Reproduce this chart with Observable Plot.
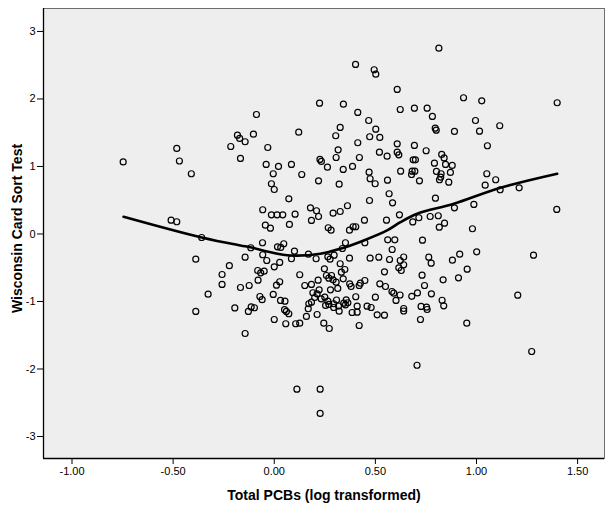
<!DOCTYPE html>
<html>
<head>
<meta charset="utf-8">
<script src="https://cdn.jsdelivr.net/npm/d3@7"></script>
<script src="https://cdn.jsdelivr.net/npm/@observablehq/plot@0.6"></script>
<style>
  html, body { margin: 0; padding: 0; background: #fff; }
</style>
</head>
<body>
<div id="chart"></div>
<script>
// Total PCBs (log transformed)
const pcbs = [
 -0.088,-0.482,-0.182,-0.171,-0.144,-0.103,-0.215,-0.032,0.121,-0.167,
 -0.747,-0.469,0.814,0.402,0.494,0.502,0.608,0.224,0.342,0.413,
 0.623,0.693,0.756,0.782,0.936,1.026,0.995,1.015,1.054,1.115,
 0.467,0.502,0.472,0.522,0.326,0.304,0.413,0.316,0.796,0.801,
 0.891,0.608,0.693,0.751,0.520,0.558,0.608,0.616,0.687,0.828,
 0.840,0.306,0.421,0.226,1.399,0.233,0.698,-0.040,0.021,0.085,
 -0.005,0.136,0.263,0.341,0.387,0.679,0.695,0.682,0.718,0.625,
 0.469,0.474,0.499,0.560,0.219,0.321,-0.014,0.000,0.072,0.568,
 0.585,0.471,-0.057,-0.014,0.014,0.042,0.103,0.179,0.209,0.219,
 0.184,0.291,0.326,0.362,0.446,0.555,0.619,0.685,-0.044,-0.019,
 0.075,0.267,0.281,0.372,0.390,0.403,-0.058,-0.116,0.016,0.032,
 0.047,0.100,0.169,0.207,0.265,0.276,0.296,0.337,0.352,0.448,
 0.561,0.596,0.583,0.517,0.474,0.570,0.372,0.326,0.640,0.623,
 0.616,0.628,0.640,0.545,-0.144,-0.222,-0.057,-0.037,0.000,0.027,
 0.085,-0.258,-0.258,-0.167,-0.124,-0.080,-0.082,-0.067,-0.050,0.011,
 0.027,-0.005,-0.071,-0.060,0.031,0.053,-0.195,-0.114,-0.098,0.051,
 0.126,0.151,0.184,0.217,0.191,0.200,0.212,0.222,0.232,0.184,
 0.171,0.248,0.258,0.270,0.283,0.291,0.306,0.314,0.278,0.341,
 0.349,0.332,0.373,0.380,0.420,0.426,0.448,0.403,0.364,0.270,
 0.254,0.308,0.294,0.318,0.352,0.410,0.459,0.500,0.522,0.550,
 0.582,0.591,0.602,0.640,0.680,0.708,0.726,-0.144,-0.128,0.000,
 0.060,0.072,0.057,0.106,0.126,0.159,0.168,0.212,0.245,0.272,
 0.250,0.265,0.294,0.321,0.344,0.356,0.385,0.410,0.420,0.479,
 0.509,0.545,0.622,0.640,0.723,0.706,0.112,0.227,0.227,0.792,
 0.847,0.880,0.802,0.825,0.823,0.817,0.871,0.863,1.051,1.095,
 1.043,1.117,1.211,0.797,0.987,0.891,1.397,0.715,0.771,0.811,
 0.842,0.816,0.980,0.733,0.764,0.776,0.881,0.917,1.001,1.282,
 0.954,0.911,0.835,0.731,0.743,0.777,0.830,0.838,0.753,1.204,
 0.756,0.952,1.273,-0.410,-0.510,-0.482,-0.359,-0.388,-0.327,-0.388
];
// Wisconsin Card Sort Test
const wcst = [
 1.770,1.267,1.464,1.415,1.366,1.479,1.296,1.281,1.508,1.119,
 1.067,1.081,2.753,2.511,2.433,2.367,2.141,1.938,1.923,1.800,
 1.844,1.864,1.864,1.741,2.018,1.973,1.681,1.523,1.307,1.603,
 1.681,1.553,1.440,1.430,1.578,1.455,1.351,1.247,1.567,1.538,
 1.519,1.336,1.311,1.233,1.212,1.153,1.212,1.173,1.099,1.178,
 1.126,1.133,1.133,1.104,1.944,1.074,1.099,1.030,1.000,1.030,
 0.892,0.881,0.990,0.956,1.000,0.881,0.930,0.930,0.788,0.930,
 0.916,0.818,0.744,0.797,0.788,0.738,0.744,0.659,0.521,0.596,
 0.462,0.496,0.359,0.284,0.284,0.284,0.293,0.388,0.344,0.259,
 0.200,0.308,0.333,0.418,0.204,0.204,0.284,0.178,0.130,0.086,
 0.141,0.092,0.056,0.056,0.107,0.107,-0.130,-0.204,-0.190,-0.200,
 -0.145,-0.255,-0.299,-0.367,-0.338,-0.373,-0.314,-0.215,-0.130,-0.130,
 -0.086,-0.086,-0.230,-0.344,-0.359,-0.378,-0.359,-0.441,-0.341,-0.393,
 -0.501,-0.541,-0.456,-0.560,-0.344,-0.470,-0.308,-0.393,-0.486,-0.422,
 -0.367,-0.600,-0.748,-0.793,-0.763,-0.684,-0.541,-0.575,-0.551,-0.759,
 -0.708,-0.896,-0.926,-0.973,-0.985,-0.996,-1.096,-1.081,-1.093,-1.121,
 -0.604,-0.763,-0.748,-0.684,-0.871,-0.941,-0.886,-0.827,-0.960,-1.010,
 -1.034,-0.516,-0.615,-0.655,-0.615,-0.679,-0.714,-0.807,-0.827,-0.664,
 -0.526,-0.566,-0.738,-0.778,-0.763,-0.729,-0.689,-0.930,-1.019,-1.044,
 -1.059,-0.978,-1.089,-1.067,-1.049,-1.070,-1.070,-0.936,-0.738,-0.778,
 -0.852,-0.877,-0.985,-1.104,-0.923,-0.874,-1.074,-1.474,-1.148,-1.267,
 -1.148,-1.182,-1.330,-1.330,-1.321,-1.222,-1.108,-1.193,-1.321,-1.400,
 -0.936,-0.996,-1.034,-1.144,-1.025,-0.975,-1.163,-1.159,-1.356,-1.089,
 -1.197,-1.203,-0.904,-1.141,-1.267,-1.945,-2.299,-2.299,-2.659,1.049,
 1.030,1.015,0.926,0.892,0.841,0.803,0.911,0.767,0.892,0.803,
 0.723,0.655,0.684,0.530,0.437,0.388,0.363,0.240,0.259,0.270,
 0.160,0.101,0.077,-0.092,-0.344,-0.433,-0.388,-0.299,-0.264,-0.314,
 -0.521,-0.649,-0.679,-0.610,-0.763,-0.886,-0.982,-1.064,-1.084,-0.907,
 -1.119,-1.321,-1.741,0.892,0.204,0.181,-0.052,-0.373,-0.892,-1.148
];
// Loess fit line
const loessX = [-0.745,-0.359,-0.167,-0.118,-0.019,0.080,0.228,0.327,0.443,0.558,0.624,0.707,0.888,1.119,1.399];
const loessY = [0.255,-0.052,-0.170,-0.196,-0.270,-0.319,-0.293,-0.219,-0.096,0.052,0.175,0.299,0.447,0.684,0.892];

const xTicks = [-1, -0.5, 0, 0.5, 1, 1.5];
const yTicks = [-3, -2, -1, 0, 1, 2, 3];
const xTitle = "Total PCBs (log transformed)";
const yTitle = "Wisconsin Card Sort Test";

const points = pcbs.map((x, i) => ({x, y: wcst[i]}));
const fit = loessX.map((x, i) => ({x, y: loessY[i]}));

const xDom = [-1.141, 1.633];
const yDom = [-3.326, 3.34];

const chart = Plot.plot({
  width: 613,
  height: 511,
  marginLeft: 43,
  marginRight: 9,
  marginTop: 8,
  marginBottom: 53,
  style: {fontFamily: "'Liberation Sans', Arial, sans-serif", fontSize: "11px", background: "#fff", color: "#000"},
  x: {domain: xDom},
  y: {domain: yDom},
  marks: [
    Plot.frame({fill: "#eeeeee", stroke: "#6e6e6e"}),
    Plot.dot(points, {x: "x", y: "y", r: 3, stroke: "#000", strokeWidth: 1.2, fill: "none"}),
    Plot.line(fit, {x: "x", y: "y", stroke: "#000", strokeWidth: 2.6, curve: "catmull-rom"}),
    Plot.ruleX([xDom[0]], {stroke: "#000", strokeWidth: 1.3}),
    Plot.ruleY([yDom[0]], {stroke: "#000", strokeWidth: 1.3}),
    Plot.axisX({ticks: xTicks, tickFormat: d => d.toFixed(2), tickSize: 6, tickPadding: 3, label: null, stroke: "#000"}),
    Plot.axisY({ticks: yTicks, tickFormat: d => String(d), tickSize: 6, tickPadding: 2, label: null, stroke: "#000"}),
    Plot.text([xTitle], {frameAnchor: "bottom", dy: 37, textAnchor: "middle", lineAnchor: "middle", fontWeight: "bold", fontSize: 14, fill: "#000"}),
    Plot.text([yTitle], {frameAnchor: "left", dx: -26, dy: -5, rotate: -90, textAnchor: "middle", lineAnchor: "middle", fontWeight: "bold", fontSize: 14, fill: "#000"})
  ]
});
document.getElementById("chart").appendChild(chart);
</script>
</body>
</html>
